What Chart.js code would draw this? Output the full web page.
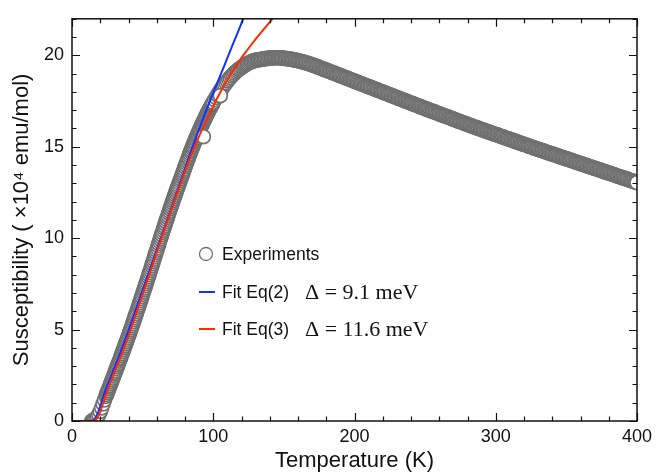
<!DOCTYPE html>
<html lang="en">
<head>
    <meta charset="UTF-8">
    <title>Susceptibility vs temperature</title>
    <style>
        body {
            margin: 0;
            background: #ffffff;
        }
        #wrap {
            width: 669px;
            height: 475px;
        }
    </style>
</head>
<body>

<div id="wrap">
    <canvas id="chiChart" width="669" height="475"></canvas>
</div>

<script src="https://cdn.jsdelivr.net/npm/chart.js"></script>
<script>
    // Measured susceptibility (x10^4 emu/mol) against temperature (K).
    const tRise = [
        14, 15, 16, 17, 18, 19, 20, 21, 22, 23,
        24, 24.5, 25, 25.5, 26, 26.5, 27, 27.5, 28, 28.5,
        29, 29.5, 30, 30.5, 31, 31.5, 32, 32.5, 33, 33.5,
        34, 34.5, 35, 35.5, 36, 36.5, 37, 37.5, 38, 38.5,
        39, 39.5, 40, 40.5, 41, 41.5, 42, 42.5, 43, 43.5,
        44, 44.5, 45, 45.5, 46, 46.5, 47, 47.5, 48, 48.5,
        49, 49.5, 50, 50.5, 51, 51.5, 52, 52.5, 53, 53.5,
        54, 54.5, 55, 55.5, 56, 56.5, 57, 57.5, 58, 58.5,
        59, 59.5, 60, 60.5, 61, 61.5, 62, 62.5, 63, 63.5,
        64, 64.5, 65, 65.5, 66, 66.5, 67, 67.5, 68, 68.5,
        69, 69.5, 70, 70.5, 71, 71.5, 72, 72.5, 73, 73.5,
        74, 74.5, 75, 75.5, 76, 76.5, 77, 77.5, 78, 78.5,
        79, 79.5, 80, 80.5, 81, 81.5, 82, 82.5, 83, 83.5,
        84, 84.5, 85, 85.5, 86, 86.5, 87, 87.5, 88, 88.5,
        89, 89.5, 90, 90.5, 91, 91.5, 92, 92.5, 93, 93.5,
        94, 94.5, 95, 95.5, 96, 96.5, 97, 97.5, 98, 98.5,
        99, 99.5, 100
    ];
    const chiRise = [
        0.0, 0.03, 0.07, 0.13, 0.22, 0.35, 0.52, 0.72, 0.94, 1.15,
        1.35, 1.45, 1.55, 1.65, 1.75, 1.85, 1.95, 2.05, 2.15, 2.25,
        2.35, 2.46, 2.56, 2.66, 2.76, 2.87, 2.97, 3.07, 3.17, 3.28,
        3.38, 3.48, 3.59, 3.69, 3.8, 3.9, 4.01, 4.11, 4.22, 4.33,
        4.43, 4.54, 4.65, 4.76, 4.87, 4.98, 5.09, 5.2, 5.31, 5.43,
        5.54, 5.65, 5.77, 5.88, 6.0, 6.11, 6.23, 6.34, 6.46, 6.58,
        6.7, 6.81, 6.93, 7.05, 7.17, 7.28, 7.4, 7.52, 7.64, 7.76,
        7.88, 8.0, 8.12, 8.24, 8.36, 8.48, 8.61, 8.73, 8.85, 8.97,
        9.1, 9.22, 9.34, 9.46, 9.59, 9.71, 9.83, 9.95, 10.07, 10.19,
        10.31, 10.43, 10.55, 10.66, 10.78, 10.9, 11.02, 11.13, 11.25, 11.37,
        11.48, 11.6, 11.71, 11.82, 11.94, 12.05, 12.16, 12.27, 12.38, 12.49,
        12.6, 12.71, 12.82, 12.92, 13.03, 13.14, 13.24, 13.35, 13.45, 13.56,
        13.67, 13.78, 13.9, 14.0, 14.11, 14.21, 14.32, 14.42, 14.53, 14.63,
        14.73, 14.83, 14.93, 15.02, 15.12, 15.22, 15.31, 15.41, 15.5, 15.59,
        15.68, 15.77, 15.86, 15.95, 16.03, 16.12, 16.2, 16.28, 16.37, 16.45,
        16.53, 16.61, 16.69, 16.77, 16.85, 16.93, 17.0, 17.08, 17.15, 17.22,
        17.29, 17.36, 17.43
    ];
    const tPeak = [
        101, 102, 103, 104, 105, 106, 107, 108, 109, 110,
        111, 112, 113, 114, 115, 116, 117, 118, 119, 120,
        121, 122, 123, 124, 125, 126, 127, 128, 129, 130
    ];
    const chiPeak = [
        17.57, 17.7, 17.83, 17.95, 18.07, 18.18, 18.29, 18.4, 18.5, 18.6,
        18.69, 18.78, 18.87, 18.95, 19.03, 19.1, 19.17, 19.23, 19.29, 19.35,
        19.4, 19.45, 19.5, 19.54, 19.58, 19.62, 19.65, 19.68, 19.71, 19.73
    ];
    const tTail = [
        131, 132, 133, 134, 135, 136, 137, 138, 139, 140,
        141, 142, 143, 144, 145, 146, 147, 148, 149, 150,
        151, 152, 153, 154, 155, 156, 157, 158, 159, 160,
        161, 162, 163, 164, 165, 166, 167, 168, 169, 170,
        171, 172, 173, 174, 175, 176, 177, 178, 179, 180,
        181, 182, 183, 184, 185, 186, 187, 188, 189, 190,
        191, 192, 193, 194, 195, 196, 197, 198, 199, 200,
        201, 202, 203, 204, 205, 206, 207, 208, 209, 210,
        211, 212, 213, 214, 215, 216, 217, 218, 219, 220,
        221, 222, 223, 224, 225, 226, 227, 228, 229, 230,
        231, 232, 233, 234, 235, 236, 237, 238, 239, 240,
        241, 242, 243, 244, 245, 246, 247, 248, 249, 250,
        251, 252, 253, 254, 255, 256, 257, 258, 259, 260,
        261, 262, 263, 264, 265, 266, 267, 268, 269, 270,
        271, 272, 273, 274, 275, 276, 277, 278, 279, 280,
        281, 282, 283, 284, 285, 286, 287, 288, 289, 290,
        291, 292, 293, 294, 295, 296, 297, 298, 299, 300,
        301, 302, 303, 304, 305, 306, 307, 308, 309, 310,
        311, 312, 313, 314, 315, 316, 317, 318, 319, 320,
        321, 322, 323, 324, 325, 326, 327, 328, 329, 330,
        331, 332, 333, 334, 335, 336, 337, 338, 339, 340,
        341, 342, 343, 344, 345, 346, 347, 348, 349, 350,
        351, 352, 353, 354, 355, 356, 357, 358, 359, 360,
        361, 362, 363, 364, 365, 366, 367, 368, 369, 370,
        371, 372, 373, 374, 375, 376, 377, 378, 379, 380,
        381, 382, 383, 384, 385, 386, 387, 388, 389, 390,
        391, 392, 393, 394, 395, 396, 397, 398, 399, 400
    ];
    const chiTail = [
        19.75, 19.76, 19.77, 19.78, 19.8, 19.81, 19.82, 19.83, 19.84, 19.85,
        19.86, 19.86, 19.87, 19.87, 19.87, 19.87, 19.87, 19.86, 19.85, 19.84,
        19.83, 19.82, 19.81, 19.8, 19.79, 19.77, 19.76, 19.74, 19.73, 19.71,
        19.69, 19.67, 19.65, 19.63, 19.61, 19.58, 19.56, 19.53, 19.51, 19.48,
        19.46, 19.43, 19.4, 19.37, 19.34, 19.31, 19.28, 19.25, 19.22, 19.19,
        19.16, 19.13, 19.1, 19.07, 19.04, 19.01, 18.98, 18.95, 18.92, 18.89,
        18.86, 18.83, 18.8, 18.77, 18.74, 18.71, 18.68, 18.65, 18.62, 18.59,
        18.56, 18.53, 18.5, 18.47, 18.44, 18.41, 18.38, 18.35, 18.32, 18.29,
        18.26, 18.23, 18.2, 18.17, 18.14, 18.11, 18.08, 18.05, 18.02, 17.99,
        17.96, 17.93, 17.9, 17.87, 17.84, 17.81, 17.78, 17.75, 17.72, 17.69,
        17.66, 17.63, 17.6, 17.57, 17.54, 17.51, 17.48, 17.45, 17.42, 17.39,
        17.36, 17.33, 17.3, 17.27, 17.24, 17.21, 17.18, 17.15, 17.12, 17.09,
        17.06, 17.03, 17.0, 16.97, 16.95, 16.92, 16.89, 16.86, 16.83, 16.8,
        16.77, 16.74, 16.71, 16.68, 16.66, 16.63, 16.6, 16.57, 16.54, 16.51,
        16.48, 16.45, 16.42, 16.39, 16.37, 16.34, 16.31, 16.28, 16.25, 16.22,
        16.19, 16.16, 16.14, 16.11, 16.08, 16.05, 16.03, 16.0, 15.97, 15.94,
        15.92, 15.89, 15.86, 15.83, 15.81, 15.78, 15.75, 15.72, 15.7, 15.67,
        15.65, 15.62, 15.59, 15.56, 15.54, 15.51, 15.48, 15.45, 15.43, 15.4,
        15.38, 15.35, 15.32, 15.29, 15.27, 15.24, 15.21, 15.18, 15.16, 15.13,
        15.11, 15.08, 15.05, 15.02, 15.0, 14.97, 14.94, 14.91, 14.89, 14.86,
        14.84, 14.81, 14.79, 14.76, 14.73, 14.7, 14.68, 14.65, 14.63, 14.6,
        14.58, 14.55, 14.53, 14.5, 14.47, 14.44, 14.42, 14.39, 14.37, 14.34,
        14.32, 14.29, 14.27, 14.24, 14.21, 14.18, 14.16, 14.13, 14.11, 14.08,
        14.06, 14.03, 14.01, 13.98, 13.95, 13.92, 13.9, 13.87, 13.85, 13.82,
        13.8, 13.77, 13.75, 13.72, 13.69, 13.66, 13.64, 13.61, 13.59, 13.56,
        13.54, 13.51, 13.49, 13.46, 13.43, 13.4, 13.38, 13.35, 13.33, 13.3,
        13.28, 13.25, 13.23, 13.2, 13.17, 13.14, 13.12, 13.09, 13.07, 13.04
    ];
    // a couple of readings that sit off the main trace
    const tStray = [93, 105];
    const chiStray = [15.55, 17.8];

    // Fitted curves, Eq(2) and Eq(3)
    const fitT = [
        0, 4, 8, 12, 14, 16, 18, 20, 22, 24,
        26, 28, 30, 32, 34, 36, 38, 40, 44, 48,
        52, 56, 60, 64, 68, 72, 76, 80, 84, 88,
        92, 96, 100, 104, 108, 112, 116, 120, 124, 128,
        132, 136, 140, 144, 148
    ];
    const fitEq2 = [
        0, 0, 0, 0, 0.01, 0.1, 0.38, 0.8, 1.3, 1.74,
        2.14, 2.53, 2.91, 3.3, 3.7, 4.11, 4.53, 4.96, 5.84, 6.72,
        7.6, 8.48, 9.36, 10.24, 11.12, 12.0, 12.9, 13.8, 14.7, 15.55,
        16.38, 17.18, 17.95, 18.72, 19.47, 20.25, 21.0, 21.77, 22.55, null,
        null, null, null, null, null
    ];
    const fitEq3 = [
        0, 0, 0, 0, 0, 0.03, 0.18, 0.5, 0.98, 1.42,
        1.84, 2.26, 2.66, 3.04, 3.42, 3.82, 4.23, 4.65, 5.55, 6.46,
        7.38, 8.3, 9.22, 10.13, 11.03, 11.92, 12.8, 13.66, 14.49, 15.22,
        15.92, 16.57, 17.22, 17.83, 18.4, 18.93, 19.4, 19.86, 20.28, 20.69,
        21.08, 21.45, 21.82, 22.18, 22.52
    ];

    const legendNames = ['Experiments', 'Fit Eq(2)', 'Fit Eq(3)'];
    const legendGaps = ['', '\u0394 = 9.1 meV', '\u0394 = 11.6 meV'];

    const SANS = "'Liberation Sans', Arial, sans-serif";
    const SERIF = "'Liberation Serif', 'Times New Roman', serif";
    const INK = '#111111';
    const MARKER = '#707070';

    function pairs(xs, ys) {
        return xs.map((x, i) => ({ x: x, y: ys[i] }));
    }

    const expPoints = [].concat(
        pairs(tRise, chiRise),
        pairs(tPeak, chiPeak),
        pairs(tTail, chiTail),
        pairs(tStray, chiStray)
    );

    // frame on all four sides with inward major/minor ticks
    const frameTicks = {
        id: 'frameTicks',
        afterDatasetsDraw(chart) {
            const { ctx, chartArea: a, scales } = chart;
            const xs = scales.x, ys = scales.y;
            ctx.save();
            ctx.strokeStyle = INK;
            ctx.lineWidth = 1.5;
            ctx.strokeRect(a.left, a.top, a.right - a.left, a.bottom - a.top);
            ctx.lineWidth = 1.2;
            ctx.beginPath();
            for (let v = xs.min; v <= xs.max; v += 20) {
                const px = Math.round(xs.getPixelForValue(v)) + 0.5;
                const len = v % 100 === 0 ? 8 : 4.5;
                ctx.moveTo(px, a.bottom); ctx.lineTo(px, a.bottom - len);
                ctx.moveTo(px, a.top); ctx.lineTo(px, a.top + len);
            }
            for (let v = ys.min; v <= ys.max; v += 1) {
                const py = Math.round(ys.getPixelForValue(v)) + 0.5;
                const len = v % 5 === 0 ? 8 : 4.5;
                ctx.moveTo(a.left, py); ctx.lineTo(a.left + len, py);
                ctx.moveTo(a.right, py); ctx.lineTo(a.right - len, py);
            }
            ctx.stroke();
            ctx.restore();
        }
    };

    // legend inside the plot, with the gap value in a serif face
    const innerLegend = {
        id: 'innerLegend',
        afterDraw(chart) {
            const ctx = chart.ctx;
            const ds = chart.data.datasets;
            const rows = [254, 292, 329];
            ctx.save();
            ctx.textBaseline = 'middle';
            for (let i = 0; i < legendNames.length; i++) {
                const y = rows[i];
                if (i === 0) {
                    ctx.beginPath();
                    ctx.arc(206, y, 6.5, 0, Math.PI * 2);
                    ctx.fillStyle = '#ffffff';
                    ctx.fill();
                    ctx.lineWidth = 1.3;
                    ctx.strokeStyle = ds[0].borderColor;
                    ctx.stroke();
                } else {
                    ctx.beginPath();
                    ctx.moveTo(199, y);
                    ctx.lineTo(215, y);
                    ctx.lineWidth = 2;
                    ctx.strokeStyle = ds[i].borderColor;
                    ctx.stroke();
                }
                ctx.fillStyle = INK;
                ctx.font = '17.5px ' + SANS;
                ctx.fillText(legendNames[i], 222, y + 1);
                if (legendGaps[i]) {
                    ctx.font = '22px ' + SERIF;
                    ctx.fillText(legendGaps[i], 305, y + 1);
                }
            }
            ctx.restore();
        }
    };

    const ctx = document.getElementById('chiChart').getContext('2d');
    const chiChart = new Chart(ctx, {
        type: 'scatter',
        data: {
            datasets: [
                {
                    label: legendNames[0],
                    data: expPoints,
                    pointStyle: 'circle',
                    pointRadius: 7,
                    borderWidth: 1.7,
                    borderColor: MARKER,
                    backgroundColor: '#ffffff',
                    showLine: false,
                    clip: 0,
                    order: 3
                },
                {
                    label: legendNames[1],
                    data: pairs(fitT, fitEq2),
                    showLine: true,
                    pointRadius: 0,
                    borderWidth: 2,
                    borderColor: '#1133ff',
                    cubicInterpolationMode: 'monotone',
                    spanGaps: false,
                    order: 2
                },
                {
                    label: legendNames[2],
                    data: pairs(fitT, fitEq3),
                    showLine: true,
                    pointRadius: 0,
                    borderWidth: 2,
                    borderColor: '#ff2a00',
                    cubicInterpolationMode: 'monotone',
                    order: 1
                }
            ]
        },
        options: {
            responsive: false,
            animation: false,
            devicePixelRatio: 1,
            layout: {
                padding: { top: 9, right: 32, left: 0, bottom: 0 }
            },
            plugins: {
                legend: { display: false },
                tooltip: { enabled: false }
            },
            scales: {
                x: {
                    type: 'linear',
                    position: 'bottom',
                    min: 0,
                    max: 400,
                    grid: { display: false, drawTicks: false },
                    border: { display: false },
                    ticks: {
                        stepSize: 100,
                        color: INK,
                        padding: 5,
                        font: { family: SANS, size: 18 }
                    },
                    title: {
                        display: true,
                        text: 'Temperature (K)',
                        color: INK,
                        font: { family: SANS, size: 22 },
                        padding: { top: 0, bottom: 1 }
                    },
                    afterFit(scale) { scale.height = 54; }
                },
                y: {
                    type: 'linear',
                    min: 0,
                    max: 22,
                    grid: { display: false, drawTicks: false },
                    border: { display: false },
                    afterBuildTicks(scale) {
                        scale.ticks = scale.ticks.filter(t => t.value % 5 === 0);
                    },
                    ticks: {
                        stepSize: 5,
                        color: INK,
                        padding: 8,
                        font: { family: SANS, size: 18 }
                    },
                    title: {
                        display: true,
                        text: 'Susceptibility ( \u00d710\u2074 emu/mol)',
                        color: INK,
                        font: { family: SANS, size: 22 },
                        padding: { top: 9, bottom: 0 }
                    },
                    afterFit(scale) { scale.width = 72; }
                }
            }
        },
        plugins: [frameTicks, innerLegend]
    });
</script>

</body>
</html>
